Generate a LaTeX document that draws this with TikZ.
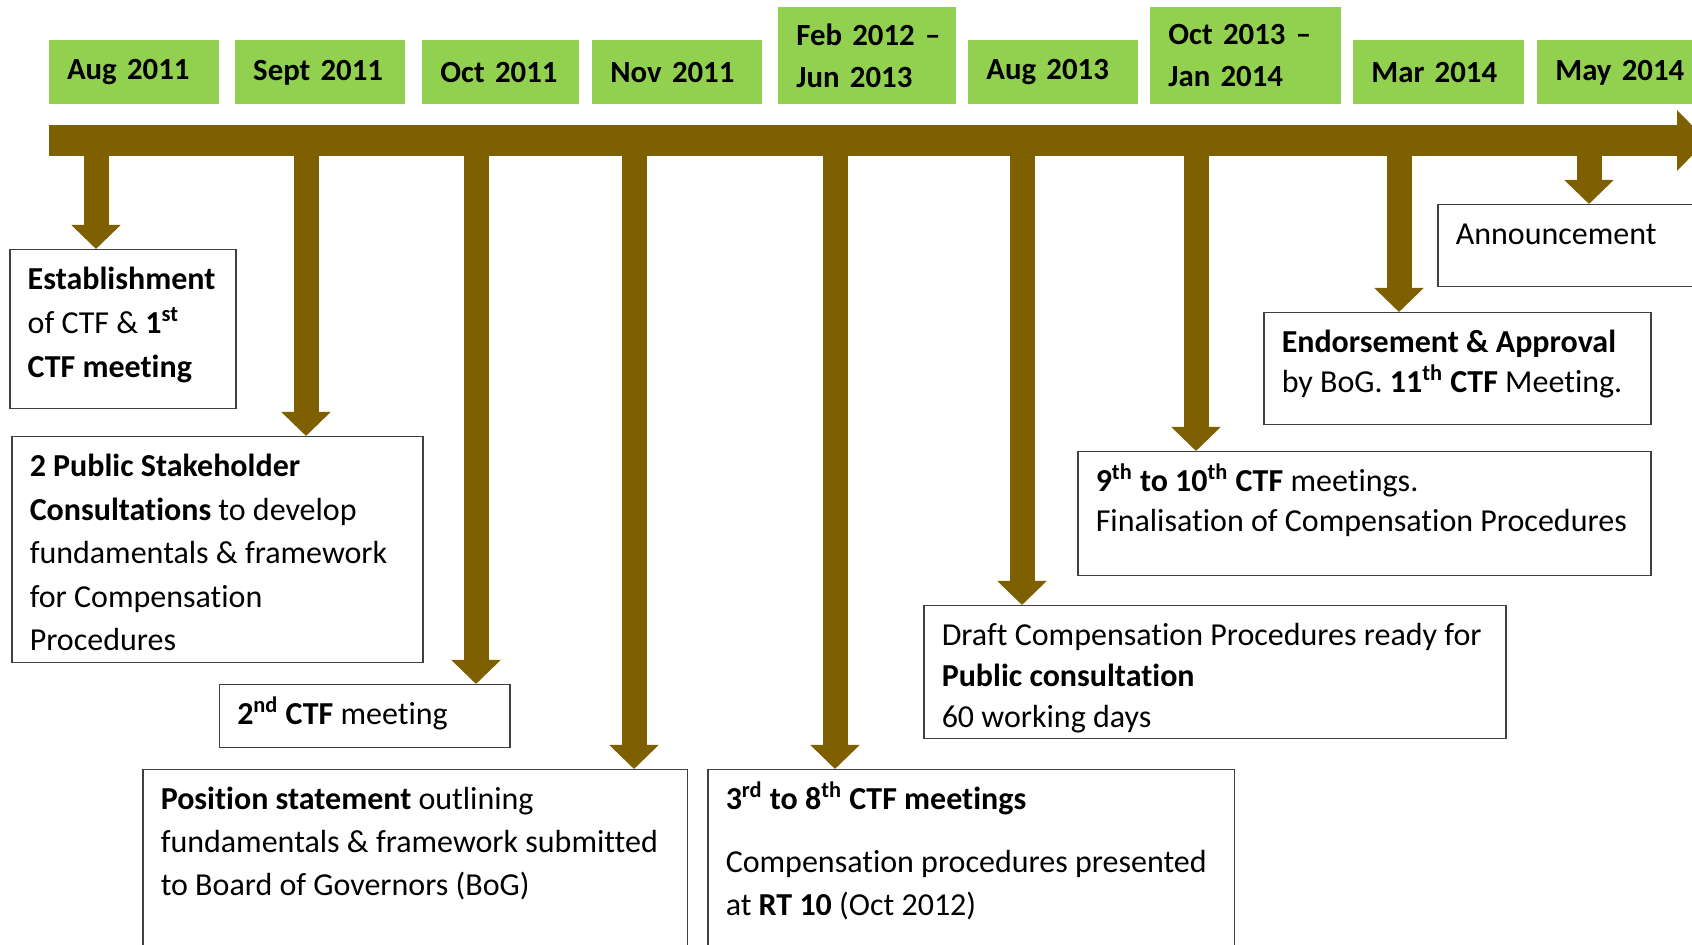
\documentclass[tikz,border=0pt]{standalone}
\usepackage{fontspec}
\setmainfont{Carlito}[Ligatures=NoCommon]
\usepackage{tikz}
\usetikzlibrary{arrows.meta}
\definecolor{datefill}{RGB}{146,208,80}
\definecolor{barbrown}{RGB}{127,96,0}
\definecolor{boxline}{RGB}{64,64,64}
\newcommand{\evtext}[4][21.5pt]{\parbox[t][#3][t]{#2}{\raggedright\setlength{\baselineskip}{#1}\rule{0pt}{20pt}#4}}

\begin{document}
\begin{tikzpicture}[x=0.5pt,y=-0.5pt]
\tikzstyle{datebox}=[fill=datefill,anchor=north west,inner xsep=9pt,inner ysep=0pt,align=left,font=\bfseries\fontsize{15.4}{21}\selectfont];
\tikzstyle{eventbox}=[draw=boxline,line width=0.75pt,fill=white,anchor=north west,inner xsep=9pt,inner ysep=0pt,font=\fontsize{16}{20}\selectfont];
\tikzstyle{bar}=[barbrown,line width=15.5pt,-{Triangle[width=29.5pt,length=15pt]}];
\tikzstyle{drop}=[barbrown,line width=12.5pt,-{Triangle[width=24pt,length=12pt]}];
\useasboundingbox (0,0) rectangle (1692,945);
\clip (0,0) rectangle (1692,945);
% dates
\node[datebox,text width=67pt,minimum height=32pt] (t1) at (48.6,40) {\mbox{Aug 2011}};
\node[datebox,text width=67pt,minimum height=32pt] (t2) at (234.8,40) {\mbox{Sept 2011}};
\node[datebox,text width=60.25pt,minimum height=32pt] (t3) at (422,40) {\mbox{Oct 2011}};
\node[datebox,text width=67pt,minimum height=32pt] (t4) at (592,40) {\mbox{Nov 2011}};
\node[datebox,text width=70.75pt,minimum height=48.5pt] (t5) at (778,7) {\mbox{Feb 2012 --}\\\mbox{Jun 2013}};
\node[datebox,text width=67pt,minimum height=32pt] (t6) at (968,40) {\mbox{Aug 2013}};
\node[datebox,text width=77.5pt,minimum height=48.5pt] (t7) at (1150,7) {\mbox{Oct 2013 --}\\\mbox{Jan 2014}};
\node[datebox,text width=67.5pt,minimum height=32pt] (t8) at (1353,40) {\mbox{Mar 2014}};
\node[datebox,text width=67pt,minimum height=32pt] (t9) at (1537,40) {\mbox{May 2014}};
% events
\node[eventbox] (b1) at (9,249) {\evtext[22pt]{95pt}{79.5pt}{\textbf{Establishment}\\ of CTF \& \textbf{1\textsuperscript{st}}\\ \textbf{CTF meeting}}};
\node[eventbox] (b2) at (11,436) {\evtext[21.75pt]{187.5pt}{113pt}{\textbf{2 Public Stakeholder}\\ \textbf{Consultations} to develop\\ fundamentals \& framework\\ for Compensation\\ Procedures}};
\node[eventbox] (b3) at (218.5,684) {\evtext{127.25pt}{31.5pt}{\textbf{2\textsuperscript{nd} CTF} meeting}};
\node[eventbox] (b4) at (142,769) {\evtext{254.25pt}{95.5pt}{\textbf{Position statement} outlining\\ fundamentals \& framework submitted\\ to Board of Governors (BoG)}};
\node[eventbox] (b5) at (707,769) {\evtext[21.5pt]{245.25pt}{95.5pt}{\textbf{3\textsuperscript{rd} to 8\textsuperscript{th} CTF meetings}\\[10pt] Compensation procedures presented\\ at \textbf{RT 10} (Oct 2012)}};
\node[eventbox] (b6) at (923,605) {\evtext[20.5pt]{273pt}{66.5pt}{Draft Compensation Procedures ready for\\ \textbf{Public consultation}\\ 60 working days}};
\node[eventbox] (b7) at (1077,451) {\evtext[20pt]{268.5pt}{62pt}{\textbf{9\textsuperscript{th} to 10\textsuperscript{th} CTF} meetings.\\ Finalisation of Compensation Procedures}};
\node[eventbox] (b8) at (1263,312) {\evtext[20pt]{175.5pt}{56pt}{\textbf{Endorsement \& Approval}\\ by BoG. \textbf{11\textsuperscript{th} CTF} Meeting.}};
\node[eventbox] (b9) at (1437,204) {\evtext{132pt}{41pt}{Announcement}};
% timeline
\coordinate (bs) at (48.6,140.5);
\coordinate (be) at (1707,140.5);
\draw[bar] (bs) -- (be);
\coordinate (p1) at (96,140.5);
\coordinate (p2) at (306,140.5);
\coordinate (p3) at (476,140.5);
\coordinate (p4) at (634,140.5);
\coordinate (p5) at (835,140.5);
\coordinate (p6) at (1022,140.5);
\coordinate (p7) at (1196,140.5);
\coordinate (p8) at (1399,140.5);
\coordinate (p9) at (1589,140.5);
\draw[drop] (p1) -- (p1 |- b1.north);
\draw[drop] (p2) -- (p2 |- b2.north);
\draw[drop] (p3) -- (p3 |- b3.north);
\draw[drop] (p4) -- (p4 |- b4.north);
\draw[drop] (p5) -- (p5 |- b5.north);
\draw[drop] (p6) -- (p6 |- b6.north);
\draw[drop] (p7) -- (p7 |- b7.north);
\draw[drop] (p8) -- (p8 |- b8.north);
\draw[drop] (p9) -- (p9 |- b9.north);
\end{tikzpicture}
\end{document}
